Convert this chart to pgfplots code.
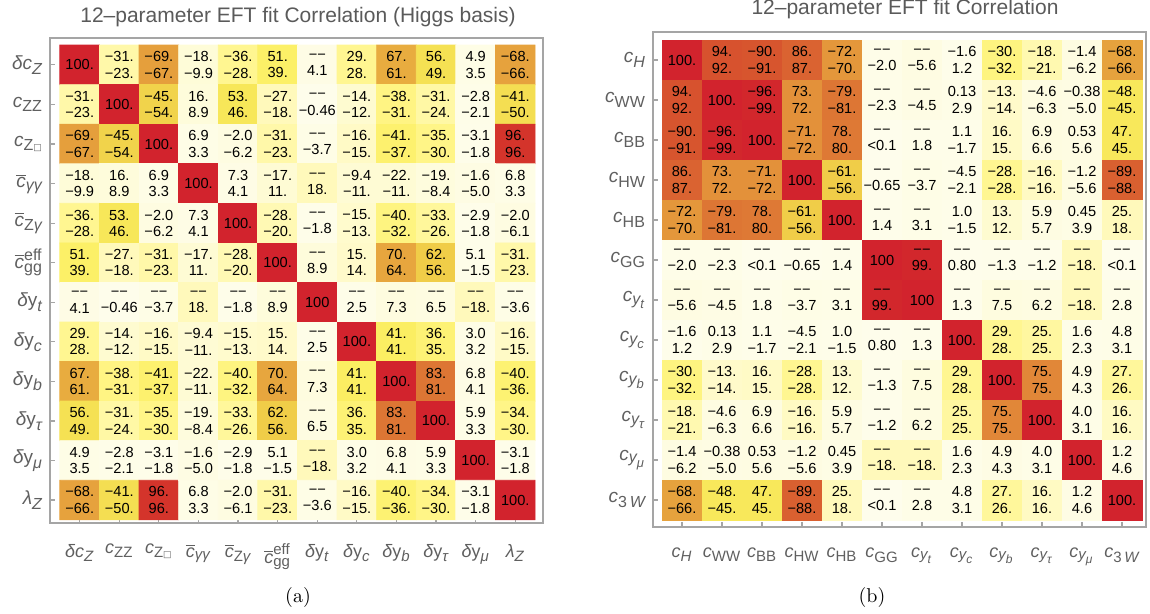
\documentclass[border=0pt]{standalone}
\usepackage{amsmath}
\usepackage{pgfplots}
\pgfplotsset{compat=1.18}
\usepackage{pgfplotstable}
\usepackage{fontspec}
\newfontfamily\arial{Liberation Sans}
\newfontfamily\dejavu{DejaVu Sans}
\DeclareMathSizes{9.5}{9.5}{8}{6.5}
\DeclareMathSizes{9}{9}{7.5}{6}
\protected\def\V#1#2{#1\\#2}
\protected\def\ti#1{\text{\itshape #1}}
\protected\def\tu#1{\text{#1}}
\newcommand\cellfont{\arial\fontsize{7.3}{8.1}\selectfont}
\definecolor{framegray}{RGB}{165,165,165}
\definecolor{labgray}{RGB}{95,95,95}
\definecolor{titlegray}{RGB}{90,90,90}

\pgfplotsset{colormap={corr}{rgb255(0pt)=(254,253,236); rgb255(8pt)=(254,252,222); rgb255(16pt)=(255,250,195); rgb255(24pt)=(255,248,165); rgb255(30pt)=(255,245,135); rgb255(40pt)=(252,240,100); rgb255(48pt)=(246,228,85); rgb255(56pt)=(240,205,72); rgb255(61pt)=(232,172,63); rgb255(66pt)=(230,162,61); rgb255(72pt)=(227,145,58); rgb255(76pt)=(224,132,55); rgb255(81pt)=(221,118,52); rgb255(88pt)=(217,96,48); rgb255(92pt)=(215,82,46); rgb255(96pt)=(212,52,43); rgb255(100pt)=(210,35,45)}}

\pgfplotsset{corrax/.style={scale only axis, anchor=south west, enlargelimits=false,
  xtick={0,...,11}, ytick={0,...,11}, tick align=inside, xtick pos=left, ytick pos=left,
  major tick length=2.5pt,
  axis line style={draw=framegray, line width=0.6pt},
  major tick style={draw=framegray, line width=0.6pt},
  colormap name=corr, point meta min=0, point meta max=100,
  xticklabel style={font=\arial\fontsize{9}{10}\selectfont, text=labgray, yshift=-7pt},
  yticklabel style={font=\arial\fontsize{9.5}{11}\selectfont, text=labgray}},
  labs/.style={only marks, mark=none, point meta=explicit symbolic, nodes near coords,
  nodes near coords align=center,
  every node near coord/.append style={font=\cellfont, align=center, text=black, anchor=center, inner sep=0pt}}}

\pgfplotstableread{
x y c lab
0 0 100 100.
1 0 23 \V{−31.}{−23.}
2 0 67 \V{−69.}{−67.}
3 0 9.9 \V{−18.}{−9.9}
4 0 28 \V{−36.}{−28.}
5 0 39 \V{51.}{39.}
6 0 4.1 \V{−−}{4.1}
7 0 28 \V{29.}{28.}
8 0 61 \V{67.}{61.}
9 0 49 \V{56.}{49.}
10 0 3.5 \V{4.9}{3.5}
11 0 66 \V{−68.}{−66.}
0 1 23 \V{−31.}{−23.}
1 1 100 100.
2 1 54 \V{−45.}{−54.}
3 1 8.9 \V{16.}{8.9}
4 1 46 \V{53.}{46.}
5 1 18 \V{−27.}{−18.}
6 1 0.46 \V{−−}{−0.46}
7 1 12 \V{−14.}{−12.}
8 1 31 \V{−38.}{−31.}
9 1 24 \V{−31.}{−24.}
10 1 2.1 \V{−2.8}{−2.1}
11 1 50 \V{−41.}{−50.}
0 2 67 \V{−69.}{−67.}
1 2 54 \V{−45.}{−54.}
2 2 100 100.
3 2 3.3 \V{6.9}{3.3}
4 2 6.2 \V{−2.0}{−6.2}
5 2 23 \V{−31.}{−23.}
6 2 3.7 \V{−−}{−3.7}
7 2 15 \V{−16.}{−15.}
8 2 37 \V{−41.}{−37.}
9 2 30 \V{−35.}{−30.}
10 2 1.8 \V{−3.1}{−1.8}
11 2 96 \V{96.}{96.}
0 3 9.9 \V{−18.}{−9.9}
1 3 8.9 \V{16.}{8.9}
2 3 3.3 \V{6.9}{3.3}
3 3 100 100.
4 3 4.1 \V{7.3}{4.1}
5 3 11 \V{−17.}{11.}
6 3 18 \V{−−}{18.}
7 3 11 \V{−9.4}{−11.}
8 3 11 \V{−22.}{−11.}
9 3 8.4 \V{−19.}{−8.4}
10 3 5.0 \V{−1.6}{−5.0}
11 3 3.3 \V{6.8}{3.3}
0 4 28 \V{−36.}{−28.}
1 4 46 \V{53.}{46.}
2 4 6.2 \V{−2.0}{−6.2}
3 4 4.1 \V{7.3}{4.1}
4 4 100 100.
5 4 20 \V{−28.}{−20.}
6 4 1.8 \V{−−}{−1.8}
7 4 13 \V{−15.}{−13.}
8 4 32 \V{−40.}{−32.}
9 4 26 \V{−33.}{−26.}
10 4 1.8 \V{−2.9}{−1.8}
11 4 6.1 \V{−2.0}{−6.1}
0 5 39 \V{51.}{39.}
1 5 18 \V{−27.}{−18.}
2 5 23 \V{−31.}{−23.}
3 5 11 \V{−17.}{11.}
4 5 20 \V{−28.}{−20.}
5 5 100 100.
6 5 8.9 \V{−−}{8.9}
7 5 14 \V{15.}{14.}
8 5 64 \V{70.}{64.}
9 5 56 \V{62.}{56.}
10 5 1.5 \V{5.1}{−1.5}
11 5 23 \V{−31.}{−23.}
0 6 4.1 \V{−−}{4.1}
1 6 0.46 \V{−−}{−0.46}
2 6 3.7 \V{−−}{−3.7}
3 6 18 \V{−−}{18.}
4 6 1.8 \V{−−}{−1.8}
5 6 8.9 \V{−−}{8.9}
6 6 100 100
7 6 2.5 \V{−−}{2.5}
8 6 7.3 \V{−−}{7.3}
9 6 6.5 \V{−−}{6.5}
10 6 18 \V{−−}{−18.}
11 6 3.6 \V{−−}{−3.6}
0 7 28 \V{29.}{28.}
1 7 12 \V{−14.}{−12.}
2 7 15 \V{−16.}{−15.}
3 7 11 \V{−9.4}{−11.}
4 7 13 \V{−15.}{−13.}
5 7 14 \V{15.}{14.}
6 7 2.5 \V{−−}{2.5}
7 7 100 100.
8 7 41 \V{41.}{41.}
9 7 35 \V{36.}{35.}
10 7 3.2 \V{3.0}{3.2}
11 7 15 \V{−16.}{−15.}
0 8 61 \V{67.}{61.}
1 8 31 \V{−38.}{−31.}
2 8 37 \V{−41.}{−37.}
3 8 11 \V{−22.}{−11.}
4 8 32 \V{−40.}{−32.}
5 8 64 \V{70.}{64.}
6 8 7.3 \V{−−}{7.3}
7 8 41 \V{41.}{41.}
8 8 100 100.
9 8 81 \V{83.}{81.}
10 8 4.1 \V{6.8}{4.1}
11 8 36 \V{−40.}{−36.}
0 9 49 \V{56.}{49.}
1 9 24 \V{−31.}{−24.}
2 9 30 \V{−35.}{−30.}
3 9 8.4 \V{−19.}{−8.4}
4 9 26 \V{−33.}{−26.}
5 9 56 \V{62.}{56.}
6 9 6.5 \V{−−}{6.5}
7 9 35 \V{36.}{35.}
8 9 81 \V{83.}{81.}
9 9 100 100.
10 9 3.3 \V{5.9}{3.3}
11 9 30 \V{−34.}{−30.}
0 10 3.5 \V{4.9}{3.5}
1 10 2.1 \V{−2.8}{−2.1}
2 10 1.8 \V{−3.1}{−1.8}
3 10 5.0 \V{−1.6}{−5.0}
4 10 1.8 \V{−2.9}{−1.8}
5 10 1.5 \V{5.1}{−1.5}
6 10 18 \V{−−}{−18.}
7 10 3.2 \V{3.0}{3.2}
8 10 4.1 \V{6.8}{4.1}
9 10 3.3 \V{5.9}{3.3}
10 10 100 100.
11 10 1.8 \V{−3.1}{−1.8}
0 11 66 \V{−68.}{−66.}
1 11 50 \V{−41.}{−50.}
2 11 96 \V{96.}{96.}
3 11 3.3 \V{6.8}{3.3}
4 11 6.1 \V{−2.0}{−6.1}
5 11 23 \V{−31.}{−23.}
6 11 3.6 \V{−−}{−3.6}
7 11 15 \V{−16.}{−15.}
8 11 36 \V{−40.}{−36.}
9 11 30 \V{−34.}{−30.}
10 11 1.8 \V{−3.1}{−1.8}
11 11 100 100.
}\tabA

\pgfplotstableread{
x y c lab
0 0 100 100.
1 0 92 \V{94.}{92.}
2 0 91 \V{−90.}{−91.}
3 0 87 \V{86.}{87.}
4 0 70 \V{−72.}{−70.}
5 0 2.0 \V{−−}{−2.0}
6 0 5.6 \V{−−}{−5.6}
7 0 1.2 \V{−1.6}{1.2}
8 0 32 \V{−30.}{−32.}
9 0 21 \V{−18.}{−21.}
10 0 6.2 \V{−1.4}{−6.2}
11 0 66 \V{−68.}{−66.}
0 1 92 \V{94.}{92.}
1 1 100 100.
2 1 99 \V{−96.}{−99.}
3 1 72 \V{73.}{72.}
4 1 81 \V{−79.}{−81.}
5 1 2.3 \V{−−}{−2.3}
6 1 4.5 \V{−−}{−4.5}
7 1 2.9 \V{0.13}{2.9}
8 1 14 \V{−13.}{−14.}
9 1 6.3 \V{−4.6}{−6.3}
10 1 5.0 \V{−0.38}{−5.0}
11 1 45 \V{−48.}{−45.}
0 2 91 \V{−90.}{−91.}
1 2 99 \V{−96.}{−99.}
2 2 100 100.
3 2 72 \V{−71.}{−72.}
4 2 80 \V{78.}{80.}
5 2 0 \V{−−}{<0.1}
6 2 1.8 \V{−−}{1.8}
7 2 1.7 \V{1.1}{−1.7}
8 2 15 \V{16.}{15.}
9 2 6.6 \V{6.9}{6.6}
10 2 5.6 \V{0.53}{5.6}
11 2 45 \V{47.}{45.}
0 3 87 \V{86.}{87.}
1 3 72 \V{73.}{72.}
2 3 72 \V{−71.}{−72.}
3 3 100 100.
4 3 56 \V{−61.}{−56.}
5 3 0.65 \V{−−}{−0.65}
6 3 3.7 \V{−−}{−3.7}
7 3 2.1 \V{−4.5}{−2.1}
8 3 28 \V{−28.}{−28.}
9 3 16 \V{−16.}{−16.}
10 3 5.6 \V{−1.2}{−5.6}
11 3 88 \V{−89.}{−88.}
0 4 70 \V{−72.}{−70.}
1 4 81 \V{−79.}{−81.}
2 4 80 \V{78.}{80.}
3 4 56 \V{−61.}{−56.}
4 4 100 100.
5 4 1.4 \V{−−}{1.4}
6 4 3.1 \V{−−}{3.1}
7 4 1.5 \V{1.0}{−1.5}
8 4 12 \V{13.}{12.}
9 4 5.7 \V{5.9}{5.7}
10 4 3.9 \V{0.45}{3.9}
11 4 18 \V{25.}{18.}
0 5 2.0 \V{−−}{−2.0}
1 5 2.3 \V{−−}{−2.3}
2 5 0 \V{−−}{<0.1}
3 5 0.65 \V{−−}{−0.65}
4 5 1.4 \V{−−}{1.4}
5 5 100 100
6 5 99 \V{−−}{99.}
7 5 0.8 \V{−−}{0.80}
8 5 1.3 \V{−−}{−1.3}
9 5 1.2 \V{−−}{−1.2}
10 5 18 \V{−−}{−18.}
11 5 0 \V{−−}{<0.1}
0 6 5.6 \V{−−}{−5.6}
1 6 4.5 \V{−−}{−4.5}
2 6 1.8 \V{−−}{1.8}
3 6 3.7 \V{−−}{−3.7}
4 6 3.1 \V{−−}{3.1}
5 6 99 \V{−−}{99.}
6 6 100 100
7 6 1.3 \V{−−}{1.3}
8 6 7.5 \V{−−}{7.5}
9 6 6.2 \V{−−}{6.2}
10 6 18 \V{−−}{−18.}
11 6 2.8 \V{−−}{2.8}
0 7 1.2 \V{−1.6}{1.2}
1 7 2.9 \V{0.13}{2.9}
2 7 1.7 \V{1.1}{−1.7}
3 7 2.1 \V{−4.5}{−2.1}
4 7 1.5 \V{1.0}{−1.5}
5 7 0.8 \V{−−}{0.80}
6 7 1.3 \V{−−}{1.3}
7 7 100 100.
8 7 28 \V{29.}{28.}
9 7 25 \V{25.}{25.}
10 7 2.3 \V{1.6}{2.3}
11 7 3.1 \V{4.8}{3.1}
0 8 32 \V{−30.}{−32.}
1 8 14 \V{−13.}{−14.}
2 8 15 \V{16.}{15.}
3 8 28 \V{−28.}{−28.}
4 8 12 \V{13.}{12.}
5 8 1.3 \V{−−}{−1.3}
6 8 7.5 \V{−−}{7.5}
7 8 28 \V{29.}{28.}
8 8 100 100.
9 8 75 \V{75.}{75.}
10 8 4.3 \V{4.9}{4.3}
11 8 26 \V{27.}{26.}
0 9 21 \V{−18.}{−21.}
1 9 6.3 \V{−4.6}{−6.3}
2 9 6.6 \V{6.9}{6.6}
3 9 16 \V{−16.}{−16.}
4 9 5.7 \V{5.9}{5.7}
5 9 1.2 \V{−−}{−1.2}
6 9 6.2 \V{−−}{6.2}
7 9 25 \V{25.}{25.}
8 9 75 \V{75.}{75.}
9 9 100 100.
10 9 3.1 \V{4.0}{3.1}
11 9 16 \V{16.}{16.}
0 10 6.2 \V{−1.4}{−6.2}
1 10 5.0 \V{−0.38}{−5.0}
2 10 5.6 \V{0.53}{5.6}
3 10 5.6 \V{−1.2}{−5.6}
4 10 3.9 \V{0.45}{3.9}
5 10 18 \V{−−}{−18.}
6 10 18 \V{−−}{−18.}
7 10 2.3 \V{1.6}{2.3}
8 10 4.3 \V{4.9}{4.3}
9 10 3.1 \V{4.0}{3.1}
10 10 100 100.
11 10 4.6 \V{1.2}{4.6}
0 11 66 \V{−68.}{−66.}
1 11 45 \V{−48.}{−45.}
2 11 45 \V{47.}{45.}
3 11 88 \V{−89.}{−88.}
4 11 18 \V{25.}{18.}
5 11 0 \V{−−}{<0.1}
6 11 2.8 \V{−−}{2.8}
7 11 3.1 \V{4.8}{3.1}
8 11 26 \V{27.}{26.}
9 11 16 \V{16.}{16.}
10 11 4.6 \V{1.2}{4.6}
11 11 100 100.
}\tabB

\protected\def\Aa{$\ti{δc}_{\ti{Z}}$}
\protected\def\Ab{$\ti{c}_{\tu{ZZ}}$}
\protected\def\Ac{$\ti{c}_{\tu{Z{\dejavu\fontsize{4.5}{5}\selectfont □}}}$}
\protected\def\Ad{$\overline{\ti{c}}_{\ti{γγ}}$}
\protected\def\Ae{$\overline{\ti{c}}_{\tu{Z}\ti{γ}}$}
\protected\def\Af{$\overline{\ti{c}}^{\tu{eff}}_{\tu{gg}}$}
\protected\def\Ag{$\ti{δ}\tu{y}_{\ti{t}}$}
\protected\def\Ah{$\ti{δ}\tu{y}_{\ti{c}}$}
\protected\def\Ai{$\ti{δ}\tu{y}_{\ti{b}}$}
\protected\def\Aj{$\ti{δ}\tu{y}_{\ti{τ}}$}
\protected\def\Ak{$\ti{δ}\tu{y}_{\ti{μ}}$}
\protected\def\Al{$\ti{λ}_{\ti{Z}}$}
\protected\def\Ba{$\ti{c}_{\ti{H}}$}
\protected\def\Bb{$\ti{c}_{\tu{WW}}$}
\protected\def\Bc{$\ti{c}_{\tu{BB}}$}
\protected\def\Bd{$\ti{c}_{\tu{HW}}$}
\protected\def\Be{$\ti{c}_{\tu{HB}}$}
\protected\def\Bf{$\ti{c}_{\tu{GG}}$}
\protected\def\Bg{$\ti{c}_{\ti{y}_{\ti{t}}}$}
\protected\def\Bh{$\ti{c}_{\ti{y}_{\ti{c}}}$}
\protected\def\Bi{$\ti{c}_{\ti{y}_{\ti{b}}}$}
\protected\def\Bj{$\ti{c}_{\ti{y}_{\ti{τ}}}$}
\protected\def\Bk{$\ti{c}_{\ti{y}_{\ti{μ}}}$}
\protected\def\Bl{$\ti{c}_{\tu{3}\,\ti{W}}$}

\begin{document}
\begin{tikzpicture}[x=0.5pt,y=0.5pt]
\path[use as bounding box] (0,0) rectangle (1150,614);
\begin{axis}[corrax, at={(25pt,45.5pt)}, width=246.5pt, height=242.5pt,
  xmin=-0.75, xmax=11.7, ymin=-0.58, ymax=11.68,
  xticklabels={\Aa,\Ab,\Ac,\Ad,\Ae,\Af,\Ag,\Ah,\Ai,\Aj,\Ak,\Al},
  yticklabels={\Al,\Ak,\Aj,\Ai,\Ah,\Ag,\Af,\Ae,\Ad,\Ac,\Ab,\Aa}]
\addplot[matrix plot*, mesh/cols=12, point meta=explicit] table[x=x, y expr=11-\thisrow{y}, meta=c]{\tabA};
\addplot[labs] table[x=x, y expr=11-\thisrow{y}, meta=lab]{\tabA};
\end{axis}
\begin{axis}[corrax, at={(326.5pt,43.5pt)}, width=246.5pt, height=247.5pt,
  xmin=-0.725, xmax=11.6, ymin=-0.675, ymax=11.7,
  xticklabels={\Ba,\Bb,\Bc,\Bd,\Be,\Bf,\Bg,\Bh,\Bi,\Bj,\Bk,\Bl},
  yticklabels={\Bl,\Bk,\Bj,\Bi,\Bh,\Bg,\Bf,\Be,\Bd,\Bc,\Bb,\Ba}]
\addplot[matrix plot*, mesh/cols=12, point meta=explicit] table[x=x, y expr=11-\thisrow{y}, meta=c]{\tabB};
\addplot[labs] table[x=x, y expr=11-\thisrow{y}, meta=lab]{\tabB};
\end{axis}
\node[anchor=base, font=\arial\fontsize{10.5}{12}\selectfont, text=titlegray] at (298,591) {12–parameter EFT fit Correlation (Higgs basis)};
\node[anchor=base, font=\arial\fontsize{10.5}{12}\selectfont, text=titlegray] at (905,599) {12–parameter EFT fit Correlation};
\node[anchor=base, font=\fontsize{10}{12}\selectfont] at (298,11) {(a)};
\node[anchor=base, font=\fontsize{10}{12}\selectfont] at (872,11) {(b)};
\end{tikzpicture}
\end{document}
